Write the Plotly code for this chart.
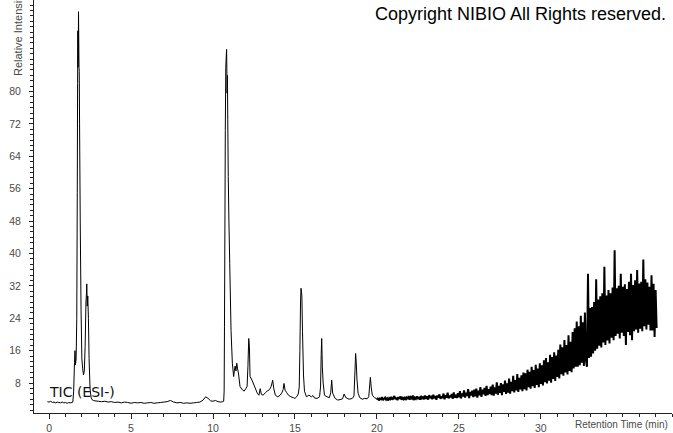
import numpy as np
import plotly.graph_objects as go

# Retention time (min) and relative intensity (peak region)
peak_times = [
    -0.1, 0.0, 0.1, 0.2, 0.3, 0.4, 0.5, 0.6, 0.7, 0.8, 0.9, 1.0, 1.1, 1.2, 1.3, 1.4, 1.45,
    1.5, 1.55, 1.58, 1.61, 1.65, 1.69, 1.72, 1.74, 1.755, 1.765, 1.78, 1.795, 1.81, 1.825, 1.84,
    1.86, 1.9, 1.95, 2.0, 2.05, 2.1, 2.15, 2.2, 2.25, 2.28, 2.3, 2.33, 2.36, 2.4, 2.44, 2.5,
    2.56, 2.62, 2.7, 2.8, 3.0, 3.2, 3.4, 3.6, 3.8, 4.0, 4.2, 4.4, 4.6, 4.8, 5.0, 5.2, 5.4,
    5.6, 5.8, 6.0, 6.2, 6.4, 6.6, 6.8, 7.0, 7.2, 7.4, 7.6, 7.8, 8.0, 8.2, 8.4, 8.6, 8.8, 9.0,
    9.2, 9.4, 9.55, 9.7, 9.85, 10.0, 10.15, 10.3, 10.45, 10.6, 10.65,
    10.68, 10.7, 10.73, 10.75, 10.78, 10.8, 10.83, 10.86, 10.88, 10.9, 10.93, 10.97, 11.02,
    11.1, 11.18, 11.26, 11.3, 11.35, 11.4, 11.45, 11.5, 11.55, 11.65, 11.8, 11.9, 12.0, 12.08,
    12.13, 12.18, 12.22, 12.26, 12.38, 12.5, 12.6, 12.7, 12.8, 12.88, 12.95, 13.05, 13.2, 13.3,
    13.45, 13.55, 13.64, 13.7, 13.8, 13.95, 14.1, 14.2, 14.28, 14.33, 14.4, 14.5, 14.6, 14.75,
    14.9, 15.0, 15.1, 15.2, 15.26, 15.3, 15.34, 15.37, 15.42, 15.46, 15.52, 15.58, 15.7, 15.85,
    16.0, 16.1, 16.2, 16.35, 16.5, 16.56, 16.6, 16.63, 16.67, 16.72, 16.8, 16.95, 17.1, 17.18,
    17.24, 17.3, 17.45, 17.6, 17.75, 17.9, 18.0, 18.1, 18.3, 18.5, 18.6, 18.66, 18.7, 18.74,
    18.78, 18.85, 18.95, 19.1, 19.25, 19.4, 19.5, 19.57, 19.6, 19.65, 19.72, 19.85, 19.95,
]
peak_intensity = [
    3.4, 3.3, 3.5, 3.2, 3.3, 3.1, 3.3, 3.2, 3.1, 3.3, 3.1, 3.2, 3.0, 3.2, 3.1, 3.2, 3.3,
    6.0, 13.0, 16.0, 12.5, 14.0, 24.0, 55.0, 82.0, 95.0, 86.0, 88.0, 99.7, 93.0, 86.0, 85.0,
    72.0, 48.0, 26.0, 14.0, 11.5, 10.0, 11.0, 17.0, 28.0, 30.0, 32.5, 27.0, 29.5, 24.0, 14.0, 6.5,
    4.5, 3.9, 3.7, 3.6, 3.5, 3.4, 3.5, 3.3, 3.4, 3.2, 3.3, 3.1, 3.3, 3.2, 3.0, 3.2, 3.1,
    3.2, 3.0, 3.1, 3.2, 3.0, 3.1, 3.2, 3.3, 3.4, 3.7, 3.3, 3.1, 3.2, 3.0, 3.1, 3.0, 3.1, 3.2,
    3.3, 3.8, 4.6, 4.2, 3.6, 3.5, 3.7, 3.4, 3.3, 3.4, 3.5,
    6.0, 21.9, 50.0, 70.4, 86.0, 88.0, 90.4, 79.6, 84.0, 73.0, 59.0, 48.0, 37.6,
    21.0, 12.9, 9.6, 11.0, 12.2, 11.0, 12.9, 11.5, 10.5, 7.1, 6.3, 6.0, 6.6, 7.2,
    12.0, 19.0, 17.0, 9.6, 8.7, 7.5, 6.5, 5.5, 5.0, 6.6, 5.2, 5.0, 5.6, 6.0,
    6.4, 7.2, 8.7, 6.8, 5.0, 4.6, 5.0, 5.6, 6.4, 7.9, 6.2, 5.6, 5.0, 4.6,
    4.4, 4.2, 4.6, 5.3, 7.0, 16.0, 28.0, 31.4, 29.5, 20.7, 10.0, 6.0, 4.6, 5.0,
    4.6, 4.9, 4.3, 4.2, 4.6, 7.0, 15.0, 19.0, 12.0, 8.0, 5.0, 4.6, 4.4, 5.6,
    8.7, 5.5, 4.2, 3.8, 3.9, 4.1, 5.3, 4.4, 4.0, 4.2, 4.8, 11.0, 15.3, 13.0,
    9.0, 5.5, 4.4, 4.0, 4.2, 4.1, 4.6, 8.0, 9.4, 7.0, 5.0, 4.4, 4.2,
]

# Noisy gradient region: one reading every 1/16 min from 20.0 min
noise_start = 20.0
noise_step = 0.0625
noise_intensity = [
    3.9, 4.3, 3.7, 4.2, 4.0, 4.5, 3.8, 4.1, 4.4, 3.9, 4.2, 3.7, 4.3, 4.0, 4.6, 3.9,
    4.2, 4.8, 4.0, 4.4, 3.8, 4.5, 4.1, 4.7, 3.9, 4.3, 4.0, 4.6, 3.8, 4.4, 4.1, 4.8,
    3.9, 4.5, 4.2, 4.9, 3.8, 4.4, 4.1, 4.7, 4.0, 4.6, 3.9, 4.8, 4.2, 4.5, 4.0, 4.9,
    4.1, 4.7, 3.9, 5.0, 4.3, 4.6, 4.0, 5.1, 4.2, 4.8, 3.9, 4.9, 4.4, 5.2, 4.1, 4.7,
    4.3, 5.4, 4.0, 5.0, 4.4, 5.6, 4.2, 4.9, 4.5, 5.3, 4.1, 5.7, 4.4, 5.1, 4.3, 5.5,
    4.5, 6.0, 4.2, 5.4, 4.7, 6.2, 4.4, 5.6, 4.8, 6.5, 4.3, 5.8, 4.9, 6.1, 4.5, 6.4,
    4.7, 6.6, 4.4, 6.1, 5.0, 7.0, 4.6, 6.4, 5.2, 6.8, 4.8, 7.3, 5.0, 6.5, 5.3, 7.1,
    5.0, 7.6, 4.9, 6.9, 5.4, 8.2, 5.1, 7.3, 5.6, 8.0, 5.0, 7.7, 5.8, 8.6, 5.3, 7.9,
    5.6, 9.1, 5.4, 8.3, 6.0, 9.8, 5.7, 8.7, 6.2, 10.2, 5.8, 9.3, 6.4, 9.9, 6.0, 10.6,
    6.5, 10.4, 6.2, 11.3, 7.0, 10.8, 6.6, 12.0, 7.2, 11.2, 6.8, 12.5, 7.5, 11.6, 7.0, 12.9,
    7.8, 12.4, 7.4, 13.6, 8.2, 14.2, 7.9, 13.1, 8.6, 15.0, 8.1, 14.4, 9.0, 15.6, 8.5, 14.8,
    9.5, 16.2, 9.1, 17.5, 10.2, 16.8, 9.8, 18.6, 10.6, 17.4, 10.1, 19.8, 11.0, 18.2, 10.7, 20.6,
    11.6, 21.5, 12.0, 23.2, 12.0, 22.0, 12.4, 24.6, 13.0, 23.0, 12.2, 25.4, 13.6, 12.0, 35.0, 14.2,
    26.5, 14.5, 26.8, 15.3, 28.0, 16.0, 33.6, 16.5, 28.6, 17.2, 29.4, 16.8, 30.2, 18.0, 36.7, 17.4,
    29.6, 18.5, 31.0, 17.8, 30.2, 19.2, 31.6, 18.6, 40.8, 19.6, 31.4, 20.2, 32.0, 19.0, 35.0, 20.4,
    31.8, 19.6, 32.4, 17.4, 31.2, 20.6, 33.0, 19.8, 35.0, 18.6, 32.2, 20.8, 33.4, 21.2, 35.9, 20.4,
    32.6, 21.4, 33.0, 20.8, 38.5, 22.0, 33.6, 21.2, 32.8, 22.4, 31.8, 21.0, 34.6, 21.0, 32.5, 19.4,
    31.0, 21.6,
]

x_tick_vals = [0, 5, 10, 15, 20, 25, 30]
y_tick_vals = [8, 16, 24, 32, 40, 48, 56, 64, 72, 80]

noise_times = noise_start + noise_step * np.arange(len(noise_intensity))

font_family = "Liberation Sans, Arial, sans-serif"
tick_font = dict(family=font_family, size=10.5, color="#4a4a4a")

fig = go.Figure()
# Join the two regions so that the line is continuous
fig.add_trace(go.Scatter(
    x=list(peak_times) + [float(noise_times[0])],
    y=list(peak_intensity) + [noise_intensity[0]],
    mode="lines", line=dict(color="black", width=1, simplify=False),
    hoverinfo="skip", showlegend=False,
))
fig.add_trace(go.Scatter(
    x=noise_times, y=noise_intensity, mode="lines",
    line=dict(color="black", width=2, simplify=False),
    hoverinfo="skip", showlegend=False,
))

fig.update_layout(
    width=673, height=433,
    margin=dict(l=34, r=1, t=0, b=20),
    paper_bgcolor="white", plot_bgcolor="white",
    xaxis=dict(
        range=[-0.92, 38.0], showgrid=False, zeroline=False,
        showline=True, linecolor="#222", linewidth=1,
        tickmode="array", tickvals=x_tick_vals, ticktext=[str(v) for v in x_tick_vals],
        ticks="outside", ticklen=5, tickcolor="#222", tickfont=tick_font,
        minor=dict(tickmode="linear", tick0=0, dtick=1, ticks="outside", ticklen=3, tickcolor="#222"),
    ),
    yaxis=dict(
        range=[0.6, 102.6], showgrid=False, zeroline=False,
        showline=True, linecolor="#222", linewidth=1,
        tickmode="array", tickvals=y_tick_vals, ticktext=[str(v) for v in y_tick_vals],
        ticks="outside", ticklen=4, tickcolor="#222", tickfont=tick_font,
        ticklabelstandoff=6,
        minor=dict(tickmode="linear", tick0=0, dtick=4 / 3, ticks="outside", ticklen=3, tickcolor="#222"),
    ),
    annotations=[
        dict(text="Copyright NIBIO All Rights reserved.", xref="paper", yref="paper",
             x=(520.5 - 34) / 638, y=(433 - 20 - 14) / 413, xanchor="center", yanchor="middle",
             showarrow=False, font=dict(family=font_family, size=18, color="black")),
        dict(text="Relative Intensity", xref="paper", yref="paper", textangle=-90,
             x=(18 - 34) / 638, y=(413 - 78) / 413, xanchor="center", yanchor="bottom",
             showarrow=False, font=dict(family=font_family, size=11, color="#4a4a4a")),
        dict(text="Retention Time (min)", xref="paper", yref="paper",
             x=(670 - 34) / 638, y=(413 - 424) / 413, xanchor="right", yanchor="middle",
             showarrow=False, font=dict(family=font_family, size=10, color="#4a4a4a")),
        dict(text="TIC (ESI-)", xref="x", yref="y", x=-0.15, y=5.9,
             xanchor="left", yanchor="middle", showarrow=False,
             font=dict(family="DejaVu Sans, sans-serif", size=14, color="#111")),
    ],
)

fig.write_html(
    "out.html",
    config={"displayModeBar": False},
    post_script="document.body.style.margin='0';document.body.style.overflow='hidden';",
)
